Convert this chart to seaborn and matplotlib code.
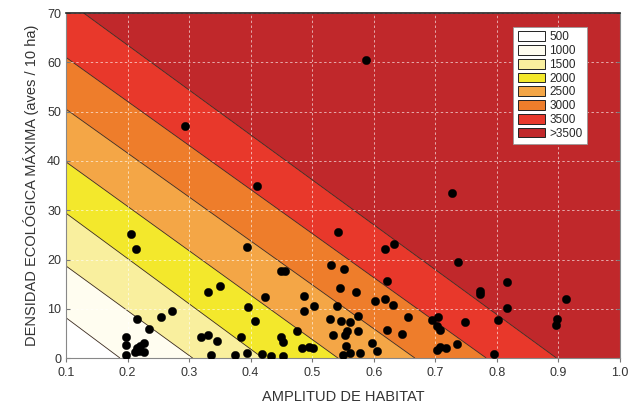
import numpy as np
import pandas as pd
import matplotlib
matplotlib.use('Agg')
import matplotlib.pyplot as plt
from matplotlib.patches import Patch
import seaborn as sns

# contour boundaries: y where each line meets x=0.1, x where it meets y=0
levels = [500, 1000, 1500, 2000, 2500, 3000, 3500]
level_y_at_x01 = [8.2, 18.7, 29.4, 39.8, 50.5, 61.0, 72.6]
level_x_at_y0 = [0.188, 0.306, 0.420, 0.542, 0.667, 0.783, 0.897]
band_labels = ['500', '1000', '1500', '2000', '2500', '3000', '3500', '>3500']
band_colors = ['#ffffff', '#fffdf0', '#f9ef9e', '#f3e82c', '#f4a646',
               '#ee7d2b', '#e8382b', '#c0282b']

amplitud = [0.205, 0.213, 0.216, 0.235, 0.197, 0.197, 0.197, 0.212, 0.216, 0.220,
            0.226, 0.219, 0.227, 0.254, 0.272, 0.330, 0.351, 0.319, 0.331, 0.346,
            0.335, 0.375, 0.385, 0.394, 0.396, 0.407, 0.394, 0.418, 0.433, 0.453,
            0.424, 0.449, 0.455, 0.450, 0.452, 0.476, 0.487, 0.486, 0.503, 0.483,
            0.494, 0.502, 0.542, 0.530, 0.552, 0.545, 0.571, 0.540, 0.529, 0.547,
            0.562, 0.574, 0.556, 0.554, 0.533, 0.575, 0.555, 0.550, 0.561, 0.577,
            0.597, 0.605, 0.619, 0.633, 0.622, 0.602, 0.618, 0.631, 0.621, 0.646,
            0.655, 0.694, 0.705, 0.702, 0.707, 0.702, 0.707, 0.717, 0.735, 0.748,
            0.737, 0.772, 0.772, 0.816, 0.816, 0.802, 0.795, 0.897, 0.896, 0.912,
            0.727, 0.587, 0.293, 0.411]
densidad = [25.2, 22.1, 8.0, 5.9, 4.2, 2.6, 0.6, 1.3, 2.0, 2.4,
            3.0, 1.4, 1.2, 8.3, 9.5, 13.5, 14.7, 4.2, 4.7, 3.5,
            0.6, 0.6, 4.2, 22.6, 10.4, 7.6, 1.1, 0.8, 0.5, 0.4,
            12.4, 17.7, 17.7, 4.2, 3.3, 5.5, 12.6, 9.6, 10.5, 2.0,
            2.3, 2.0, 25.5, 18.8, 18.1, 14.3, 13.4, 10.6, 8.0, 7.6,
            7.3, 8.5, 5.6, 4.7, 4.7, 5.5, 2.4, 0.6, 1.0, 1.1,
            3.1, 1.5, 22.2, 23.1, 15.7, 11.6, 12.1, 10.8, 5.7, 4.8,
            8.3, 7.8, 8.4, 6.5, 5.7, 1.6, 2.3, 2.1, 2.8, 7.4,
            19.5, 13.7, 13.0, 15.4, 10.1, 7.7, 0.8, 8.0, 6.7, 12.1,
            33.5, 60.4, 47.1, 35.0]

df = pd.DataFrame({'amplitud': amplitud, 'densidad': densidad})

sns.set_style('white')
plt.rcParams['font.family'] = ['Liberation Sans', 'DejaVu Sans']

fig = plt.figure(figsize=(6.37, 4.07), dpi=100)
ax = fig.add_axes([0.1036, 0.120, 0.8697, 0.848])

xmin, xmax, ymin, ymax = 0.1, 1.0, 0, 70
xs = np.linspace(xmin, xmax, 600)


def boundary(i):
    y0, x0 = level_y_at_x01[i], level_x_at_y0[i]
    return np.clip(y0 * (x0 - xs) / (x0 - xmin), ymin, ymax)


lines = [np.full_like(xs, ymin)] + [boundary(i) for i in range(len(levels))] + [np.full_like(xs, ymax)]
for i, col in enumerate(band_colors):
    ax.fill_between(xs, lines[i], lines[i + 1], color=col, lw=0, zorder=1)
for i in range(len(levels)):
    b = lines[i + 1]
    m = (b > ymin) & (b < ymax)
    ax.plot(xs[m], b[m], color='#3a2a20', lw=0.6, zorder=1.3)

sns.scatterplot(data=df, x='amplitud', y='densidad', color='black', s=36,
                edgecolor='black', linewidth=0.3, ax=ax, zorder=3, legend=False)

ax.set_xlim(xmin, xmax)
ax.set_ylim(ymin, ymax)
ax.set_xticks(np.arange(0.1, 1.01, 0.1))
ax.set_xticklabels(['0.1', '0.2', '0.3', '0.4', '0.5', '0.6', '0.7', '0.8', '0.9', '1.0'])
ax.set_yticks(range(0, 71, 10))
ax.set_axisbelow('line')
ax.grid(True, color='white', linestyle=(0, (2.5, 2.5)), linewidth=0.7, alpha=0.6)
ax.tick_params(axis='both', labelsize=9, labelcolor='#333333', length=3,
               color='#777777', direction='out', bottom=True, left=True)
ax.tick_params(axis='y', right=True, direction='in')

for s in ['left', 'bottom', 'right']:
    ax.spines[s].set_color('#888888')
    ax.spines[s].set_linewidth(0.8)
ax.spines['top'].set_color('#222222')
ax.spines['top'].set_linewidth(1.2)

ax.set_xlabel('AMPLITUD DE HABITAT', fontsize=10.5, color='#333333', labelpad=8)
ax.set_ylabel('DENSIDAD ECOLÓGICA MÁXIMA (aves / 10 ha)', fontsize=10.5,
              color='#333333', labelpad=6)

handles = [Patch(facecolor=c, edgecolor='#222222', linewidth=0.7) for c in band_colors]
leg = ax.legend(handles, band_labels, loc='upper right', bbox_to_anchor=(0.952, 0.978),
                fontsize=8.5, frameon=True, fancybox=False, framealpha=1,
                edgecolor='#999999', handlelength=2.3, handleheight=0.9,
                labelspacing=0.15, handletextpad=0.4, borderpad=0.4)
leg.get_frame().set_linewidth(0.6)
leg.set_zorder(5)

fig.savefig('out.png', dpi=100)
